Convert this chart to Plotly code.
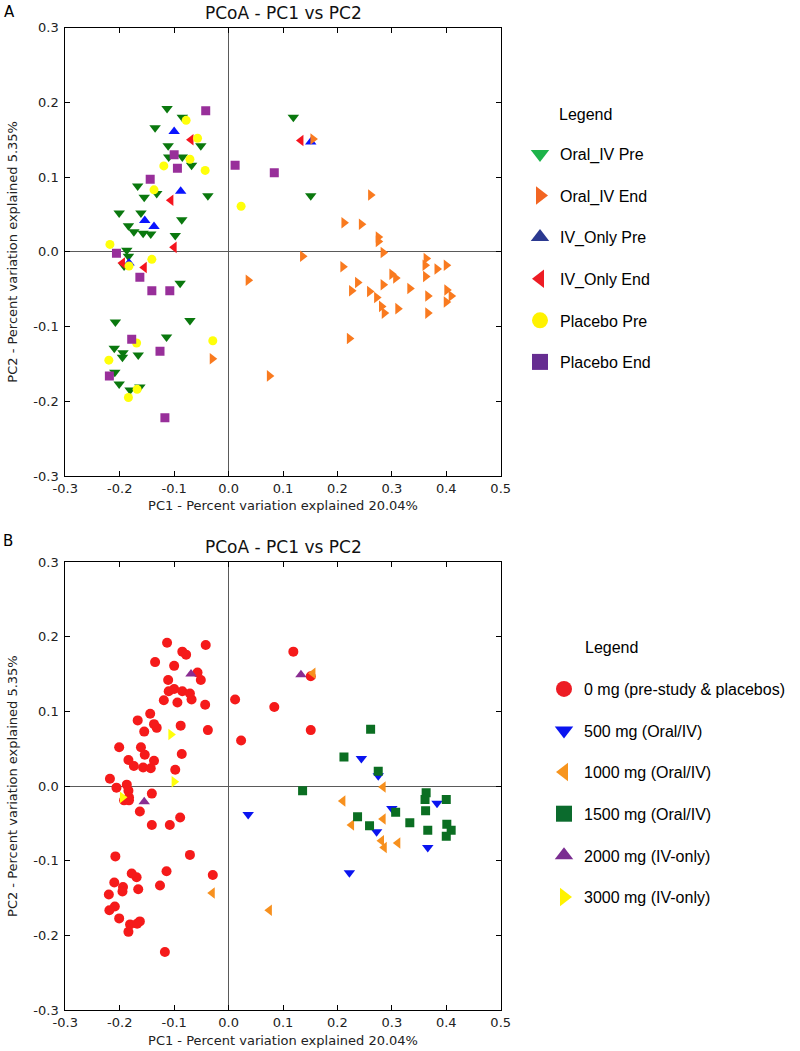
import plotly.graph_objects as go

# ---------------- data (PC1, PC2 coordinates) ----------------
oral_pre_x = [-0.113, -0.085, -0.135, -0.111, -0.051, -0.110, -0.085, -0.068, -0.167, -0.155,
              -0.132, -0.038, -0.201, -0.161, -0.086, -0.184, -0.174, -0.157, -0.143, -0.098,
              -0.187, -0.184, -0.192, -0.089, -0.208, -0.071, -0.114, -0.210, -0.194, -0.195,
              -0.166, -0.209, -0.201, -0.181, -0.163, 0.119, 0.151]
oral_pre_y = [0.192, 0.180, 0.166, 0.142, 0.142, 0.127, 0.127, 0.116, 0.088, 0.073,
              0.078, 0.075, 0.052, 0.052, 0.043, 0.035, 0.027, 0.025, 0.024, 0.022,
              0.002, -0.006, -0.019, -0.042, -0.094, -0.092, -0.114, -0.129, -0.135, -0.141,
              -0.138, -0.161, -0.177, -0.185, -0.181, 0.180, 0.075]

oral_end_x = [0.155, 0.261, 0.212, 0.244, 0.275, 0.275, 0.284, 0.136, 0.210, 0.363,
              0.361, 0.383, 0.400, 0.300, 0.307, 0.362, 0.036, 0.237, 0.284, 0.333,
              0.226, 0.259, 0.272, 0.401, 0.409, 0.366, 0.400, 0.281, 0.311, 0.286,
              0.366, 0.222, 0.075, -0.030]
oral_end_y = [0.151, 0.076, 0.039, 0.037, 0.020, 0.014, -0.001, -0.006, -0.020, -0.009,
              -0.018, -0.023, -0.018, -0.030, -0.035, -0.033, -0.038, -0.041, -0.044, -0.049,
              -0.052, -0.053, -0.061, -0.051, -0.059, -0.059, -0.067, -0.073, -0.076, -0.082,
              -0.082, -0.116, -0.166, -0.143]
oral_end_dose = [1000, 1500, 1500, 500, 1500, 500, 1000, 1500, 1000, 1500,
                 1500, 500, 1500, 500, 1500, 1500, 500, 1500, 1000, 1500,
                 1000, 1500, 500, 1500, 1500, 1500, 1500, 1000, 1000, 1000,
                 500, 500, 1000, 1000]

iv_pre_x = [-0.100, -0.088, -0.154, -0.137, -0.183, 0.151]
iv_pre_y = [0.161, 0.081, 0.042, 0.034, -0.015, 0.147]

iv_end_x = [-0.069, -0.106, -0.195, -0.155, -0.100, 0.133]
iv_end_y = [0.150, 0.069, -0.015, -0.021, 0.006, 0.149]
iv_end_dose = [2000, 3000, 3000, 2000, 3000, 2000]

plac_pre_x = [-0.078, -0.057, -0.071, -0.119, -0.043, -0.137, 0.023, -0.218, -0.141, -0.183,
              -0.169, -0.029, -0.220, -0.168, -0.184]
plac_pre_y = [0.176, 0.152, 0.124, 0.115, 0.109, 0.083, 0.061, 0.010, -0.010, -0.019,
              -0.122, -0.119, -0.145, -0.184, -0.195]

plac_end_x = [-0.042, -0.100, -0.094, -0.144, 0.012, 0.084, -0.206, -0.163, -0.141, -0.108,
              -0.178, -0.126, -0.219, -0.117]
plac_end_y = [0.189, 0.130, 0.112, 0.097, 0.116, 0.106, -0.002, -0.034, -0.052, -0.052,
              -0.117, -0.133, -0.166, -0.222]

groups_a = ["Oral_IV Pre", "Oral_IV End", "IV_Only Pre", "IV_Only End", "Placebo Pre", "Placebo End"]
doses_b = ["0 mg (pre-study & placebos)", "500 mg (Oral/IV)", "1000 mg (Oral/IV)",
           "1500 mg (Oral/IV)", "2000 mg (IV-only)", "3000 mg (IV-only)"]

x_tickvals = [-0.3, -0.2, -0.1, 0.0, 0.1, 0.2, 0.3, 0.4, 0.5]
x_ticktext = ["-0.3", "-0.2", "-0.1", "0.0", "0.1", "0.2", "0.3", "0.4", "0.5"]
y_tickvals = [-0.3, -0.2, -0.1, 0.0, 0.1, 0.2, 0.3]
y_ticktext = ["-0.3", "-0.2", "-0.1", "0.0", "0.1", "0.2", "0.3"]

title_text = "PCoA - PC1 vs PC2"
xtitle = "PC1 - Percent variation explained 20.04%"
ytitle = "PC2 - Percent variation explained 5.35%"

# ---------------- layout helpers ----------------
W, H = 800, 1051
def px_x(p): return p / W
def px_y(p): return 1 - p / H

DJ = "DejaVu Sans"
AR = "Liberation Sans, Arial, sans-serif"

fig = go.Figure()

# ---- Panel A (data traces) ----
styleA = {
    "Oral_IV Pre": ("triangle-down", "#0a780e", 10),
    "Oral_IV End": ("triangle-right", "#f97a1f", 10),
    "IV_Only Pre": ("triangle-up", "#0a14ff", 10),
    "IV_Only End": ("triangle-left", "#f5141e", 10),
    "Placebo Pre": ("circle", "#ffff0a", 9),
    "Placebo End": ("square", "#982f9a", 9),
}
legendA_col = {
    "Oral_IV Pre": "#1db34a", "Oral_IV End": "#f26522", "IV_Only Pre": "#2b3990",
    "IV_Only End": "#ed1c24", "Placebo Pre": "#fff200", "Placebo End": "#662d91",
}
dataA = {
    "Oral_IV Pre": (oral_pre_x, oral_pre_y),
    "Oral_IV End": (oral_end_x, oral_end_y),
    "IV_Only Pre": (iv_pre_x, iv_pre_y),
    "IV_Only End": (iv_end_x, iv_end_y),
    "Placebo Pre": (plac_pre_x, plac_pre_y),
    "Placebo End": (plac_end_x, plac_end_y),
}
drawA = ["Oral_IV Pre", "IV_Only Pre", "Oral_IV End", "IV_Only End", "Placebo Pre", "Placebo End"]
for g in drawA:
    sym, col, sz = styleA[g]
    xs, ys = dataA[g]
    fig.add_trace(go.Scatter(x=xs, y=ys, mode="markers", showlegend=False,
                             marker=dict(symbol=sym, color=col, size=sz, line=dict(width=0)),
                             xaxis="x", yaxis="y", name=g))
for g in groups_a:
    sym, col, sz = styleA[g]
    fig.add_trace(go.Scatter(x=[None], y=[None], mode="markers", name=g, legend="legend",
                             legendgroup=g,
                             marker=dict(symbol=sym, color=legendA_col[g], size=16, line=dict(width=0)),
                             xaxis="x", yaxis="y"))

# ---- Panel B ----
zero_x = oral_pre_x + iv_pre_x + plac_pre_x + plac_end_x
zero_y = oral_pre_y + iv_pre_y + plac_pre_y + plac_end_y
def pick(xs, ys, ds, d):
    return [x for x, k in zip(xs, ds) if k == d], [y for y, k in zip(ys, ds) if k == d]
dataB = {
    doses_b[0]: (zero_x, zero_y),
    doses_b[1]: pick(oral_end_x, oral_end_y, oral_end_dose, 500),
    doses_b[2]: pick(oral_end_x, oral_end_y, oral_end_dose, 1000),
    doses_b[3]: pick(oral_end_x, oral_end_y, oral_end_dose, 1500),
    doses_b[4]: pick(iv_end_x, iv_end_y, iv_end_dose, 2000),
    doses_b[5]: pick(iv_end_x, iv_end_y, iv_end_dose, 3000),
}
styleB = {
    doses_b[0]: ("circle", "#f51a1a", 10),
    doses_b[1]: ("triangle-down", "#0a14f0", 10),
    doses_b[2]: ("triangle-left", "#f7901e", 10),
    doses_b[3]: ("square", "#0b6e22", 9),
    doses_b[4]: ("triangle-up", "#8a2d92", 10),
    doses_b[5]: ("triangle-right", "#ffff0a", 10),
}
legendB_col = {
    doses_b[0]: "#ed1c24", doses_b[1]: "#0a14f0", doses_b[2]: "#f7941d",
    doses_b[3]: "#0b6b2d", doses_b[4]: "#7a2d91", doses_b[5]: "#fff200",
}
drawB = [doses_b[0], doses_b[1], doses_b[2], doses_b[3], doses_b[4], doses_b[5]]
for g in drawB:
    sym, col, sz = styleB[g]
    xs, ys = dataB[g]
    fig.add_trace(go.Scatter(x=xs, y=ys, mode="markers", showlegend=False,
                             marker=dict(symbol=sym, color=col, size=sz, line=dict(width=0)),
                             xaxis="x2", yaxis="y2", name=g))
for g in doses_b:
    sym, col, sz = styleB[g]
    fig.add_trace(go.Scatter(x=[None], y=[None], mode="markers", name=g, legend="legend2",
                             legendgroup=g,
                             marker=dict(symbol=sym, color=legendB_col[g], size=16, line=dict(width=0)),
                             xaxis="x2", yaxis="y2"))

# ---------------- axes ----------------
xdom = [px_x(65.3), px_x(500.7)]
domA = [px_y(476.0), px_y(27.7)]
domB = [px_y(1010.3), px_y(562.0)]

def xaxis(anchor):
    return dict(domain=xdom, anchor=anchor, range=[-0.3, 0.5], tickvals=x_tickvals,
                ticktext=x_ticktext, ticks="inside", ticklen=5, tickwidth=1, tickcolor="black",
                showline=True, linecolor="black", linewidth=1, mirror="ticks",
                showgrid=False, zeroline=True, zerolinecolor="#5a5a5a", zerolinewidth=1.3,
                automargin=False,
                tickfont=dict(family=DJ, size=13, color="#222"),
                title=dict(text=xtitle, font=dict(family=DJ, size=13, color="#222"), standoff=6))

def yaxis(anchor, dom):
    return dict(domain=dom, anchor=anchor, range=[-0.3, 0.3], tickvals=y_tickvals,
                ticktext=y_ticktext, ticks="inside", ticklen=5, tickwidth=1, tickcolor="black",
                showline=True, linecolor="black", linewidth=1, mirror="ticks",
                showgrid=False, zeroline=True, zerolinecolor="#5a5a5a", zerolinewidth=1.3,
                automargin=False, ticklabelstandoff=3,
                tickfont=dict(family=DJ, size=13, color="#222"),
                title=dict(text=ytitle, font=dict(family=DJ, size=13, color="#222"), standoff=12))

fig.update_layout(
    width=W, height=H, autosize=False,
    margin=dict(l=0, r=0, t=0, b=0, autoexpand=False),
    paper_bgcolor="white", plot_bgcolor="white",
    xaxis=xaxis("y"), yaxis=yaxis("x", domA),
    xaxis2=xaxis("y2"), yaxis2=yaxis("x2", domB),
    legend=dict(x=px_x(520), y=px_y(137), xanchor="left", yanchor="top",
                font=dict(family=AR, size=16, color="black"), tracegroupgap=17.8,
                itemwidth=30, bgcolor="rgba(0,0,0,0)"),
    legend2=dict(x=px_x(544), y=px_y(672), xanchor="left", yanchor="top",
                 font=dict(family=AR, size=16, color="black"), tracegroupgap=17.8,
                 itemwidth=30, bgcolor="rgba(0,0,0,0)"),
    showlegend=True,
)

annots = [
    dict(text="A", x=px_x(2), y=px_y(12), xanchor="left", yanchor="middle",
         font=dict(family=DJ, size=15, color="black")),
    dict(text="B", x=px_x(1), y=px_y(541), xanchor="left", yanchor="middle",
         font=dict(family=DJ, size=15, color="black")),
    dict(text=title_text, x=px_x(283), y=px_y(13), xanchor="center", yanchor="middle",
         font=dict(family=DJ, size=17, color="#111")),
    dict(text=title_text, x=px_x(283), y=px_y(547), xanchor="center", yanchor="middle",
         font=dict(family=DJ, size=17, color="#111")),
    dict(text="Legend", x=px_x(557), y=px_y(114), xanchor="left", yanchor="middle",
         font=dict(family=AR, size=16, color="black")),
    dict(text="Legend", x=px_x(583), y=px_y(647), xanchor="left", yanchor="middle",
         font=dict(family=AR, size=16, color="black")),
]
for a in annots:
    a.update(xref="paper", yref="paper", showarrow=False)
fig.update_layout(annotations=annots)

fig.write_html("out.html", config={"displayModeBar": False},
               post_script="document.body.style.margin='0';document.body.style.overflow='hidden';")
